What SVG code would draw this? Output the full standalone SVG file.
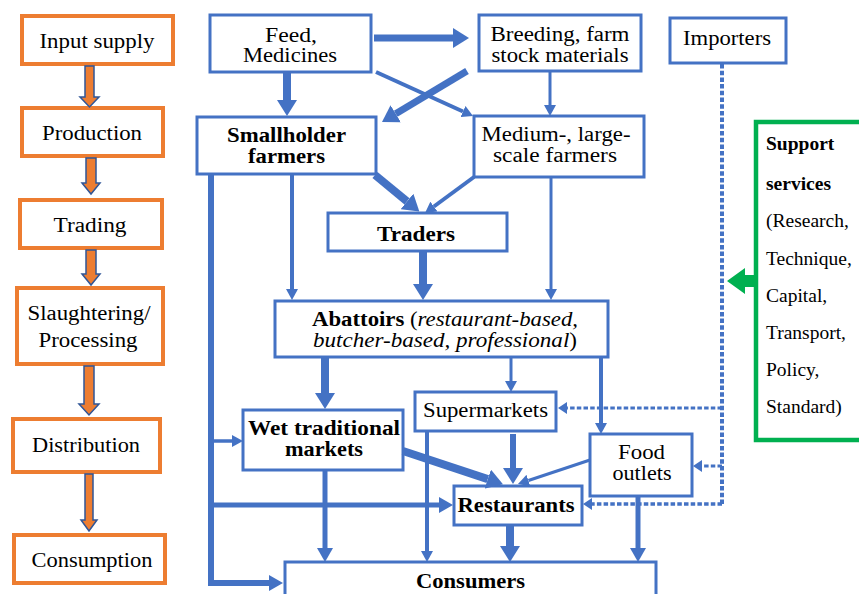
<svg xmlns="http://www.w3.org/2000/svg" width="859" height="594" viewBox="0 0 859 594">
<style>
text{font-family:'Liberation Serif','Times New Roman',serif;font-size:20px;fill:#000}
.c{text-anchor:middle}
.b{font-weight:bold}
.i{font-style:italic}
.s{font-size:19.5px}
.ob{fill:#fff;stroke:#ED7D31;stroke-width:4}
.bb{fill:#fff;stroke:#4472C4;stroke-width:3}
.gb{fill:#fff;stroke:#00B050;stroke-width:4.5}
.ba{fill:#ED7D31;stroke:#2F5597;stroke-width:1.5}
.ln{fill:none;stroke:#4472C4}
.dt{fill:none;stroke:#4472C4;stroke-dasharray:4.5 2.2}
</style>
<defs>
<marker id="mL" markerUnits="userSpaceOnUse" viewBox="0 -10 16 20" refX="0" refY="0" markerWidth="16" markerHeight="20" orient="auto"><path d="M0,-10 L16,0 L0,10 z" fill="#4472C4"/></marker>
<marker id="mM" markerUnits="userSpaceOnUse" viewBox="0 -8 14 16" refX="0" refY="0" markerWidth="14" markerHeight="16" orient="auto"><path d="M0,-8 L14,0 L0,8 z" fill="#4472C4"/></marker>
<marker id="mS" markerUnits="userSpaceOnUse" viewBox="0 -6 11 12" refX="0" refY="0" markerWidth="11" markerHeight="12" orient="auto"><path d="M0,-6 L11,0 L0,6 z" fill="#4472C4"/></marker>
<marker id="mD" markerUnits="userSpaceOnUse" viewBox="0 -6 9 12" refX="0" refY="0" markerWidth="9" markerHeight="12" orient="auto"><path d="M0,-6 L9,0 L0,6 z" fill="#4472C4"/></marker>
</defs>

<!-- left stage column -->
<g id="stage-input"><rect class="ob" x="22" y="16" width="151" height="48"/><text class="c" x="97" y="48" textLength="115" lengthAdjust="spacingAndGlyphs">Input supply</text></g>
<g id="stage-production"><rect class="ob" x="22" y="108" width="141" height="48"/><text class="c" x="92" y="140" textLength="100" lengthAdjust="spacingAndGlyphs">Production</text></g>
<g id="stage-trading"><rect class="ob" x="20" y="200" width="142" height="48"/><text class="c" x="90" y="232" textLength="73" lengthAdjust="spacingAndGlyphs">Trading</text></g>
<g id="stage-slaughter"><rect class="ob" x="17" y="288" width="146" height="76"/><text class="c" x="89" y="320" textLength="123" lengthAdjust="spacingAndGlyphs">Slaughtering/</text><text class="c" x="88" y="347" textLength="99" lengthAdjust="spacingAndGlyphs">Processing</text></g>
<g id="stage-distribution"><rect class="ob" x="13" y="419" width="147" height="53"/><text class="c" x="86" y="452" textLength="108" lengthAdjust="spacingAndGlyphs">Distribution</text></g>
<g id="stage-consumption"><rect class="ob" x="14" y="535" width="151" height="48"/><text class="c" x="92" y="567" textLength="121" lengthAdjust="spacingAndGlyphs">Consumption</text></g>

<g id="stage-arrows">
<polygon class="ba" points="85,66 94,66 94,97 99,97 89.5,107 80,97 85,97"/>
<polygon class="ba" points="86,158 96,158 96,183 100,183 91,194 82,183 86,183"/>
<polygon class="ba" points="86,250 96,250 96,274 100,274 91,285 82,274 86,274"/>
<polygon class="ba" points="84,366 94,366 94,404 99,404 89,415 79,404 84,404"/>
<polygon class="ba" points="85,474 93,474 93,520 97,520 89,531 81,520 85,520"/>
</g>

<!-- nodes -->
<g id="feed"><rect class="bb" x="210" y="15" width="161" height="57"/><text class="c" x="291" y="42" textLength="52" lengthAdjust="spacingAndGlyphs">Feed,</text><text class="c" x="290" y="62" textLength="94" lengthAdjust="spacingAndGlyphs">Medicines</text></g>
<g id="breeding"><rect class="bb" x="479" y="15" width="162" height="56"/><text class="c" x="560" y="41" textLength="139" lengthAdjust="spacingAndGlyphs">Breeding, farm</text><text class="c" x="560" y="62" textLength="137" lengthAdjust="spacingAndGlyphs">stock materials</text></g>
<g id="importers"><rect class="bb" x="670" y="18" width="116" height="45"/><text class="c" x="727" y="45" textLength="88" lengthAdjust="spacingAndGlyphs">Importers</text></g>
<g id="smallholder"><rect class="bb" x="197" y="117" width="179" height="57"/><text class="c b" x="286.5" y="142" textLength="119" lengthAdjust="spacingAndGlyphs">Smallholder</text><text class="c b" x="286.5" y="163" textLength="77" lengthAdjust="spacingAndGlyphs">farmers</text></g>
<g id="medium"><rect class="bb" x="474" y="116" width="170" height="61"/><text class="c" x="556" y="141" textLength="149" lengthAdjust="spacingAndGlyphs">Medium-, large-</text><text class="c" x="555" y="162" textLength="124" lengthAdjust="spacingAndGlyphs">scale farmers</text></g>
<g id="traders"><rect class="bb" x="328" y="213" width="179" height="38"/><text class="c b" x="416" y="241" textLength="78" lengthAdjust="spacingAndGlyphs">Traders</text></g>
<g id="abattoirs"><rect class="bb" x="275" y="301" width="333" height="56"/><text class="c" x="445" y="326" textLength="266" lengthAdjust="spacingAndGlyphs"><tspan class="b">Abattoirs</tspan> (<tspan class="i">restaurant-based,</tspan></text><text class="c" x="445" y="347" textLength="264" lengthAdjust="spacingAndGlyphs"><tspan class="i">butcher-based, professional</tspan>)</text></g>
<g id="wet-markets"><rect class="bb" x="243" y="410" width="160" height="60"/><text class="c b" x="324" y="435" textLength="152" lengthAdjust="spacingAndGlyphs">Wet traditional</text><text class="c b" x="324" y="456" textLength="78" lengthAdjust="spacingAndGlyphs">markets</text></g>
<g id="supermarkets"><rect class="bb" x="415" y="392" width="141" height="39"/><text class="c" x="485.5" y="417" textLength="125" lengthAdjust="spacingAndGlyphs">Supermarkets</text></g>
<g id="food-outlets"><rect class="bb" x="590" y="434" width="102" height="62"/><text class="c" x="641.5" y="459" textLength="47" lengthAdjust="spacingAndGlyphs">Food</text><text class="c" x="642" y="480" textLength="59" lengthAdjust="spacingAndGlyphs">outlets</text></g>
<g id="restaurants"><rect class="bb" x="454" y="486" width="128" height="39"/><text class="c b" x="516" y="512" textLength="117" lengthAdjust="spacingAndGlyphs">Restaurants</text></g>
<g id="consumers"><rect class="bb" x="285" y="562" width="371" height="42"/><text class="c b" x="470.5" y="588" textLength="109" lengthAdjust="spacingAndGlyphs">Consumers</text></g>
<g id="support"><rect class="gb" x="756" y="122" width="110" height="318"/>
<text class="s b" x="766" y="150">Support</text>
<text class="s b" x="766" y="190">services</text>
<text class="s" x="766" y="227">(Research,</text>
<text class="s" x="766" y="265">Technique,</text>
<text class="s" x="766" y="302">Capital,</text>
<text class="s" x="766" y="339">Transport,</text>
<text class="s" x="766" y="376">Policy,</text>
<text class="s" x="766" y="413">Standard)</text>
</g>

<!-- connectors -->
<g id="connectors">
<line class="ln" stroke-width="7" x1="374" y1="38" x2="453" y2="38" marker-end="url(#mL)"/>
<line class="ln" stroke-width="8" x1="287" y1="72" x2="287" y2="100" marker-end="url(#mL)"/>
<line class="ln" stroke-width="4" x1="376" y1="72" x2="463" y2="111.5" marker-end="url(#mS)"/>
<line class="ln" stroke-width="7" x1="467" y1="71" x2="395.7" y2="113.8" marker-end="url(#mL)"/>
<line class="ln" stroke-width="3" x1="550" y1="71" x2="550" y2="105" marker-end="url(#mS)"/>
<line class="ln" stroke-width="8" x1="375" y1="175" x2="407" y2="201.4" marker-end="url(#mL)"/>
<line class="ln" stroke-width="4" x1="474" y1="177" x2="433.9" y2="206.5" marker-end="url(#mS)"/>
<line class="ln" stroke-width="4" x1="292" y1="174" x2="292" y2="289" marker-end="url(#mS)"/>
<line class="ln" stroke-width="3" x1="551" y1="177" x2="551" y2="289" marker-end="url(#mS)"/>
<line class="ln" stroke-width="8" x1="423" y1="251" x2="423" y2="284" marker-end="url(#mL)"/>
<path class="ln" stroke-width="6" d="M211,174 V583 H269" marker-end="url(#mM)"/>
<line class="ln" stroke-width="3.5" x1="211" y1="441" x2="232" y2="441" marker-end="url(#mS)"/>
<line class="ln" stroke-width="5" x1="211" y1="505" x2="439" y2="505" marker-end="url(#mM)"/>
<line class="ln" stroke-width="8" x1="325" y1="357" x2="325" y2="393" marker-end="url(#mL)"/>
<line class="ln" stroke-width="3" x1="511" y1="357" x2="511" y2="381" marker-end="url(#mS)"/>
<line class="ln" stroke-width="4" x1="601" y1="357" x2="601" y2="423" marker-end="url(#mS)"/>
<line class="ln" stroke-width="8" x1="403" y1="451" x2="487.8" y2="479.1" marker-end="url(#mL)"/>
<line class="ln" stroke-width="6" x1="513" y1="434" x2="513" y2="468" marker-end="url(#mL)"/>
<line class="ln" stroke-width="3" x1="590" y1="460" x2="528.4" y2="480.5" marker-end="url(#mS)"/>
<line class="ln" stroke-width="5" x1="325" y1="470" x2="325" y2="548" marker-end="url(#mM)"/>
<line class="ln" stroke-width="4" x1="427" y1="431" x2="427" y2="551" marker-end="url(#mS)"/>
<line class="ln" stroke-width="8" x1="510" y1="525" x2="510" y2="546" marker-end="url(#mL)"/>
<line class="ln" stroke-width="5" x1="638" y1="496" x2="638" y2="548" marker-end="url(#mM)"/>
<line class="dt" stroke-width="4" x1="722" y1="64" x2="722" y2="506"/>
<line class="dt" stroke-width="3" x1="722" y1="408" x2="567" y2="408" marker-end="url(#mD)"/>
<line class="dt" stroke-width="3" x1="722" y1="466" x2="702" y2="466" marker-end="url(#mD)"/>
<line class="dt" stroke-width="3.5" x1="722" y1="504" x2="592" y2="504" marker-end="url(#mD)"/>
<polygon fill="#00B050" points="727,281 745,268 745,275 756,275 756,287 745,287 745,294"/>
</g>
</svg>
